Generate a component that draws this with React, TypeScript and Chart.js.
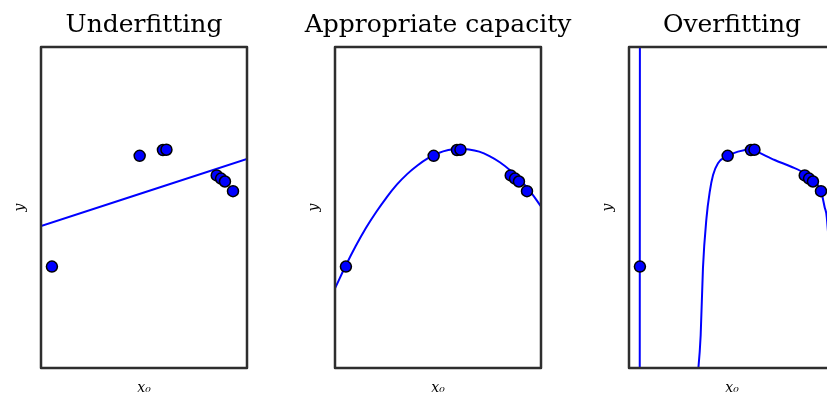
import React, { useEffect, useRef } from "react";
import { Chart, registerables } from "chart.js";

Chart.register(...registerables);

// ---- data (x and y both in 0..1 panel units) ----
const panelTitles = ["Underfitting", "Appropriate capacity", "Overfitting"];
const xAxisLabel = "x₀";
const yAxisLabel = "y";

const pointX = [0.053, 0.479, 0.592, 0.609, 0.853, 0.874, 0.893, 0.932];
const pointY = [0.316, 0.661, 0.679, 0.68, 0.6, 0.59, 0.581, 0.551];

const linearFitX = [0, 1];
const linearFitY = [0.442, 0.651];

const quadFitX = [0, 0.05, 0.1, 0.15, 0.2, 0.25, 0.3, 0.35, 0.4, 0.45, 0.5, 0.55, 0.6, 0.65, 0.7, 0.75, 0.8, 0.85, 0.9, 0.95, 1];
const quadFitY = [0.248, 0.316, 0.379, 0.436, 0.486, 0.531, 0.571, 0.604, 0.631, 0.653, 0.669, 0.679, 0.683, 0.681, 0.674, 0.66, 0.641, 0.616, 0.585, 0.548, 0.503];

const overfitSpikeX = [0.052, 0.053];
const overfitSpikeY = [-0.2, 1.2];

const overfitX = [0.33, 0.348, 0.359, 0.376, 0.392, 0.408, 0.432, 0.479, 0.529, 0.592, 0.61, 0.707, 0.788, 0.837, 0.874, 0.932, 0.95, 0.96, 0.975, 0.99];
const overfitY = [-0.05, 0.103, 0.311, 0.466, 0.549, 0.601, 0.638, 0.661, 0.674, 0.681, 0.677, 0.648, 0.627, 0.612, 0.59, 0.551, 0.5, 0.47, 0.3, -0.2];

const toXY = (xs: number[], ys: number[]) => xs.map((x, i) => ({ x, y: ys[i] }));

const BLUE = "#0000ff";

const framePlugin = {
  id: "frame",
  afterDatasetsDraw(chart: any) {
    const { ctx, chartArea: a } = chart;
    ctx.save();
    ctx.strokeStyle = "#2e2e2e";
    ctx.lineWidth = 2.5;
    ctx.lineJoin = "round";
    ctx.strokeRect(a.left, a.top, a.right - a.left, a.bottom - a.top);
    ctx.restore();
  },
};

function fitSeries(index: number) {
  const line = (data: { x: number; y: number }[], mode: "default" | "monotone") => ({
    data,
    showLine: true,
    borderColor: BLUE,
    borderWidth: 2,
    pointRadius: 0,
    fill: false,
    tension: 0.4,
    cubicInterpolationMode: mode,
  });
  if (index === 0) return [line(toXY(linearFitX, linearFitY), "default")];
  if (index === 1) return [line(toXY(quadFitX, quadFitY), "default")];
  return [
    line(toXY(overfitSpikeX, overfitSpikeY), "default"),
    line(toXY(overfitX, overfitY), "monotone"),
  ];
}

const hiddenAxis = {
  ticks: { display: false },
  grid: { display: false },
  border: { display: false },
};

function Panel({ index, left }: { index: number; left: number }) {
  const ref = useRef<HTMLCanvasElement>(null);
  useEffect(() => {
    const chart = new Chart(ref.current!, {
      type: "line",
      data: {
        datasets: [
          {
            data: toXY(pointX, pointY),
            showLine: false,
            pointRadius: 5.5,
            pointBackgroundColor: BLUE,
            pointBorderColor: "#000000",
            pointBorderWidth: 1.5,
            borderColor: BLUE,
          },
          ...fitSeries(index),
        ] as any,
      },
      options: {
        animation: false,
        responsive: false,
        layout: { padding: 0 },
        plugins: {
          legend: { display: false },
          tooltip: { enabled: false },
          title: {
            display: true,
            text: panelTitles[index],
            fullSize: true,
            color: "#000000",
            font: { family: "'DejaVu Serif'", size: 25, weight: "normal", lineHeight: 1.2 },
            padding: { top: 10, bottom: 7 },
          },
        },
        scales: {
          x: {
            type: "linear",
            min: 0,
            max: 1,
            ...hiddenAxis,
            title: {
              display: true,
              text: xAxisLabel,
              color: "#000000",
              font: { family: "'DejaVu Serif'", size: 14, style: "italic", lineHeight: 1.2 },
              padding: { top: 0, bottom: 3 },
            },
            afterFit: (s: any) => {
              s.height = 32;
            },
          },
          y: {
            type: "linear",
            min: 0,
            max: 1,
            ...hiddenAxis,
            title: {
              display: true,
              text: yAxisLabel,
              color: "#000000",
              font: { family: "'DejaVu Serif'", size: 14, style: "italic", lineHeight: 1.2 },
              padding: { top: 12, bottom: 0 },
            },
            afterFit: (s: any) => {
              s.width = 41;
            },
          },
          yRight: {
            type: "linear",
            position: "right",
            display: true,
            min: 0,
            max: 1,
            ...hiddenAxis,
            afterFit: (s: any) => {
              s.width = 41;
            },
          },
        },
      } as any,
      plugins: [framePlugin],
    });
    return () => chart.destroy();
  }, [index]);
  return (
    <canvas
      ref={ref}
      width={288}
      height={400}
      style={{ position: "absolute", left, top: 0, width: 288, height: 400 }}
    />
  );
}

export default function App() {
  return (
    <div
      style={{
        position: "fixed",
        left: 0,
        top: 0,
        width: 827,
        height: 400,
        overflow: "hidden",
        background: "#ffffff",
      }}
    >
      {panelTitles.map((t, i) => (
        <Panel key={t} index={i} left={i * 294} />
      ))}
    </div>
  );
}
